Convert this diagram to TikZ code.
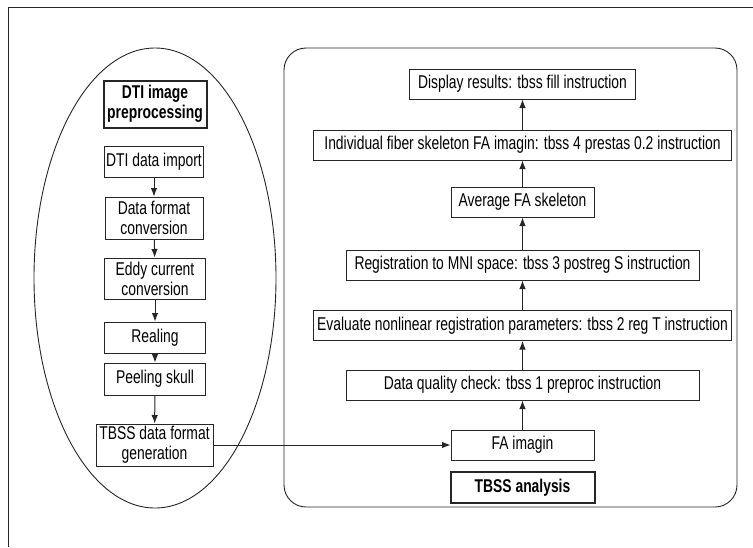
\documentclass[tikz,border=0pt]{standalone}
\usepackage{fontspec}
\setmainfont[FakeStretch=0.75]{Liberation Sans}
\usepackage{tikz}
\usetikzlibrary{arrows.meta, positioning}
\newcommand{\boxfont}{\fontsize{18.5}{20}\selectfont}
\tikzset{
  sbox/.style={draw=black!85, line width=1pt, fill=white, inner xsep=2pt,
               inner ysep=1.5pt, minimum height=30pt, align=center, font=\boxfont},
  hbox/.style={sbox, line width=2pt, font=\boxfont\bfseries},
  arr/.style={-{Latex[length=8.5pt,width=6.5pt]}, line width=1pt, black!85},
  frame/.style={line width=0.9pt, black!85},
}

\begin{document}
\begin{tikzpicture}[x=1pt, y=-1pt, every node/.style={font=\boxfont}]
    \useasboundingbox (0,0) rectangle (753,547);
    \draw[frame] (8,547) -- (8,7) -- (753,7);
    \draw[frame] (155,278) ellipse [x radius=121pt, y radius=230pt];
    \draw[frame, rounded corners=22pt] (284,48) rectangle (737,507);

    % preprocessing
    \node[hbox, minimum width=103pt, minimum height=47pt] (pre) at (155,104) {DTI image\\preprocessing};
    \node[sbox, minimum width=98pt, minimum height=31pt] (imp) at (154,161.5) {DTI data import};
    \node[sbox, minimum width=98pt, minimum height=42pt] (conv) at (154,218) {Data format\\conversion};
    \node[sbox, minimum width=101pt, minimum height=41pt] (eddy) at (155,278.5) {Eddy current\\conversion};
    \node[sbox, minimum width=101pt, minimum height=31pt] (real) at (155,337.5) {Realing};
    \node[sbox, minimum width=101pt, minimum height=32pt] (peel) at (155,379) {Peeling skull};
    \node[sbox, minimum width=117pt, minimum height=42pt] (gen) at (154.5,445) {TBSS data format\\generation};

    % analysis
    \node[sbox, minimum width=226pt] (disp) at (522.5,84) {Display results: tbss fill instruction};
    \node[sbox, minimum width=418pt] (fib) at (522.5,145) {Individual fiber skeleton FA imagin: tbss 4 prestas 0.2 instruction};
    \node[sbox, minimum width=143pt] (avg) at (522.5,202) {Average FA skeleton};
    \node[sbox, minimum width=353pt] (reg) at (522.5,265) {Registration to MNI space: tbss 3 postreg S instruction};
    \node[sbox, minimum width=418pt] (eval) at (522.5,325.5) {Evaluate nonlinear registration parameters: tbss 2 reg T instruction};
    \node[sbox, minimum width=353pt] (qual) at (522.5,385) {Data quality check: tbss 1 preproc instruction};
    \node[sbox, minimum width=143pt] (fa) at (522.5,445) {FA imagin};
    \node[hbox, minimum width=144pt, minimum height=31pt] (tbss) at (522.5,487.5) {TBSS analysis};

    \draw[arr] (imp) -- (conv);
    \draw[arr] (conv) -- (eddy);
    \draw[arr] (eddy) -- (real);
    \draw[arr] (real) -- (peel);
    \draw[arr] (peel) -- (gen);
    \draw[arr] (gen.east) -- (fa.west);
    \draw[arr] (fa) -- (qual);
    \draw[arr] (qual) -- (eval);
    \draw[arr] (eval) -- (reg);
    \draw[arr] (reg) -- (avg);
    \draw[arr] (avg) -- (fib);
    \draw[arr] (fib) -- (disp);
\end{tikzpicture}
\end{document}
